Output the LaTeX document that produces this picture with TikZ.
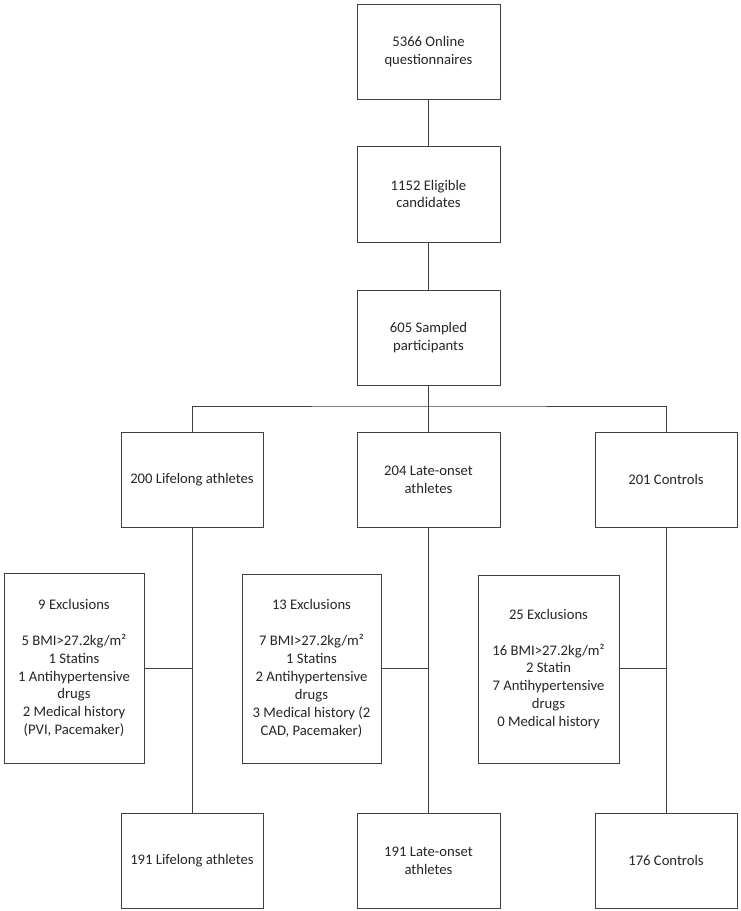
\documentclass[tikz,border=0pt]{standalone}
\usepackage{fontspec}
\setmainfont{Carlito}
\begin{document}
\begin{tikzpicture}[x=1pt,y=-1pt,
  box/.style={draw=black!75, line width=0.9pt, align=center, inner sep=4pt,
    font=\fontsize{14.67}{17.9}\selectfont, text=black!85},
  conn/.style={draw=black!75, line width=0.9pt}]
\useasboundingbox (0,0) rectangle (740,911);
\fill[white] (0,0) rectangle (740,911);
% main column
\node[box, minimum width=143pt, minimum height=95pt] (b1) at (428.5,52) {5366 Online\\questionnaires};
\node[box, minimum width=143pt, minimum height=96pt] (b2) at (428.5,194) {1152 Eligible\\candidates};
\node[box, minimum width=143pt, minimum height=95pt] (b3) at (428.5,337.5) {605 Sampled\\participants};
% groups
\node[box, minimum width=142pt, minimum height=95pt] (g1) at (192,479.5) {200 Lifelong athletes};
\node[box, minimum width=143pt, minimum height=95pt] (g2) at (428.5,479.5) {204 Late-onset\\athletes};
\node[box, minimum width=142pt, minimum height=95pt] (g3) at (666,479.5) {201 Controls};
% exclusions
\node[box, minimum width=140pt, minimum height=190pt] (e1) at (74,668)
  {9 Exclusions\\[17.9pt]5 BMI>27.2kg/m²\\1 Statins\\1 Antihypertensive\\drugs\\2 Medical history\\(PVI, Pacemaker)};
\node[box, minimum width=139pt, minimum height=189pt] (e2) at (311.5,668.5)
  {13 Exclusions\\[17.9pt]7 BMI>27.2kg/m²\\1 Statins\\2 Antihypertensive\\drugs\\3 Medical history (2\\CAD, Pacemaker)};
\node[box, minimum width=141pt, minimum height=188pt] (e3) at (548.5,669)
  {25 Exclusions\\[17.9pt]16 BMI>27.2kg/m²\\2 Statin\\7 Antihypertensive\\drugs\\0 Medical history};
% results
\node[box, minimum width=142pt, minimum height=95pt] (r1) at (192,860.5) {191 Lifelong athletes};
\node[box, minimum width=143pt, minimum height=95pt] (r2) at (428.5,860.5) {191 Late-onset\\athletes};
\node[box, minimum width=142pt, minimum height=95pt] (r3) at (666,860.5) {176 Controls};
% connectors
\draw[conn] (b1) -- (b2);
\draw[conn] (b2) -- (b3);
\coordinate (split) at (428.5,406);
\draw[conn] (b3.south) -- (split);
\draw[conn] (g1.north) |- (split) -| (g3.north);
\draw[conn] (split) -- (g2.north);
\draw[conn] (g1.south) -- (r1.north);
\draw[conn] (g2.south) -- (r2.north);
\draw[conn] (g3.south) -- (r3.north);
\coordinate (j1) at (192,668);
\coordinate (j2) at (428.5,668);
\coordinate (j3) at (666,668);
\draw[conn] (j1) -- (j1 -| e1.east);
\draw[conn] (j2) -- (j2 -| e2.east);
\draw[conn] (j3) -- (j3 -| e3.east);
\end{tikzpicture}
\end{document}
